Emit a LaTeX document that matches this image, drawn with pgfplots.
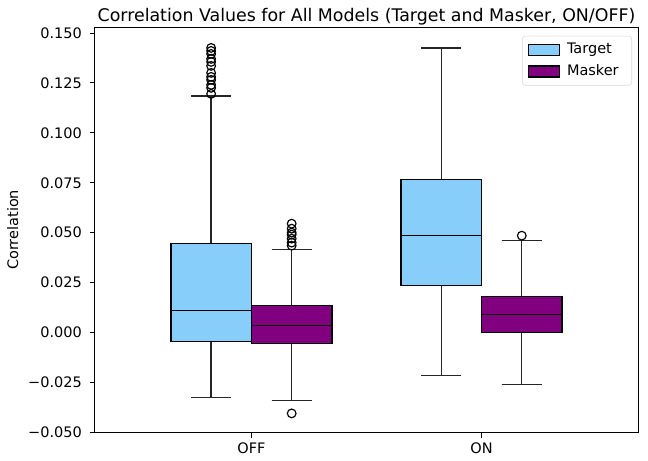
\documentclass[border=0pt]{standalone}
\usepackage{pgfplots}
\pgfplotsset{compat=1.18}
\usepgfplotslibrary{statistics}
\usepackage{fontspec}
\setmainfont{DejaVu Sans}
\definecolor{skyb}{HTML}{87CEFA}
\definecolor{purp}{HTML}{800080}
\begin{document}
\begin{tikzpicture}
\begin{axis}[
  width=374.7pt, height=280pt, scale only axis,
  xmin=-0.68, xmax=1.68,
  ymin=-0.0502, ymax=0.153,
  axis line style={black, line width=0.6pt},
  tick style={black, line width=0.6pt},
  tick align=outside, major tick length=3.5pt,
  xtick={0,1}, xticklabels={OFF,ON},
  ytick={-0.05,-0.025,0,0.025,0.05,0.075,0.1,0.125,0.15},
  yticklabels={−0.050,−0.025,0.000,0.025,0.050,0.075,0.100,0.125,0.150},
  xtick pos=bottom, ytick pos=left,
  ticklabel style={font=\fontsize{10}{12}\selectfont},
  yticklabel style={xshift=-2pt},
  ylabel={Correlation},
  ylabel style={font=\fontsize{10}{12}\selectfont},
  title={Correlation Values for All Models (Target and Masker, ON/OFF)},
  title style={font=\fontsize{12}{14}\selectfont, yshift=-8pt},
  legend style={at={(0.989,0.978)}, anchor=north east, draw=black!15, rounded corners=2pt,
    font=\fontsize{10}{12}\selectfont, row sep=2pt, inner xsep=4pt, inner ysep=3pt,
    nodes={inner ysep=2pt, inner xsep=5pt}},
  legend cell align=left,
  legend image code/.code={\draw[#1, line width=0.8pt, sharp corners] (0pt,-3.8pt) rectangle (21pt,3.8pt);},
  boxplot/draw direction=y,
  boxplot/box extend=0.35,
  boxplot/whisker extend=0.175,
  boxplot/every whisker/.style={line width=0.9pt, black!85},
  boxplot/every median/.style={line width=0.9pt, black},
  boxplot/every box/.style={line width=0.9pt, draw=black},
]
\addlegendimage{fill=skyb, draw=black}
\addlegendentry{Target}
\addlegendimage{fill=purp, draw=black}
\addlegendentry{Masker}

% OFF target
\addplot[forget plot, fill=skyb, draw=black, line width=0.9pt, boxplot prepared={
  lower whisker=-0.0325, lower quartile=-0.0045, median=0.011,
  upper quartile=0.0445, upper whisker=0.1185, draw position=-0.175}]
  coordinates {};
% OFF masker
\addplot[forget plot, fill=purp, draw=black, line width=0.9pt, boxplot prepared={
  lower whisker=-0.034, lower quartile=-0.0055, median=0.0035,
  upper quartile=0.0135, upper whisker=0.0415, draw position=0.175}]
  coordinates {};
% ON target
\addplot[forget plot, fill=skyb, draw=black, line width=0.9pt, boxplot prepared={
  lower whisker=-0.0215, lower quartile=0.0235, median=0.0485,
  upper quartile=0.0765, upper whisker=0.1425, draw position=0.825}]
  coordinates {};
% ON masker
\addplot[forget plot, fill=purp, draw=black, line width=0.9pt, boxplot prepared={
  lower whisker=-0.026, lower quartile=0.0, median=0.009,
  upper quartile=0.018, upper whisker=0.046, draw position=1.175}]
  coordinates {};

% outliers
\addplot[forget plot, only marks, mark=o, mark size=3pt, mark options={black, line width=0.8pt}]
  coordinates {
  (-0.175,0.1195) (-0.175,0.1225) (-0.175,0.124) (-0.175,0.1265) (-0.175,0.128)
  (-0.175,0.130) (-0.175,0.1335) (-0.175,0.1355) (-0.175,0.137) (-0.175,0.1395)
  (-0.175,0.141) (-0.175,0.1425)
  (0.175,0.0435) (0.175,0.045) (0.175,0.047) (0.175,0.049) (0.175,0.050)
  (0.175,0.052) (0.175,0.0545) (0.175,-0.0405)
  (1.175,0.0485)
  };
\end{axis}
\pgfresetboundingbox
\path[use as bounding box] ([xshift=-65.5pt,yshift=-19.3pt]current axis.south west) rectangle ([xshift=6.9pt,yshift=18.6pt]current axis.north east);
\end{tikzpicture}
\end{document}
